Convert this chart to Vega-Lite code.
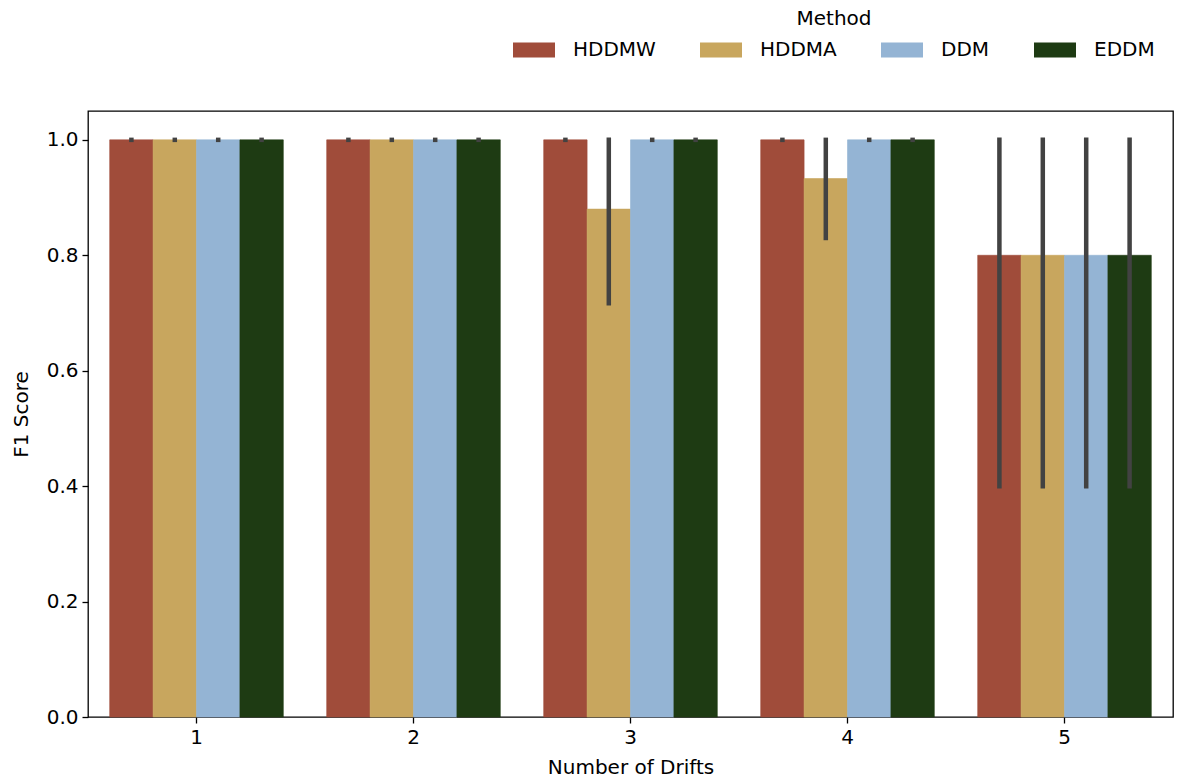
{
  "$schema": "https://vega.github.io/schema/vega-lite/v6.json",
  "width": 1085,
  "height": 606,
  "autosize": {"type": "none"},
  "padding": {"left": 88, "top": 111, "right": 4, "bottom": 63},
  "background": "white",
  "config": {
    "font": "DejaVu Sans",
    "view": {"stroke": "black", "strokeWidth": 1.3},
    "axis": {
      "labelFont": "DejaVu Sans",
      "labelFontSize": 20,
      "labelColor": "black",
      "titleFont": "DejaVu Sans",
      "titleFontSize": 20,
      "titleFontWeight": "normal",
      "titleColor": "black",
      "tickColor": "black",
      "tickSize": 6,
      "tickWidth": 1.3,
      "domain": false,
      "grid": false
    },
    "legend": {
      "labelFont": "DejaVu Sans",
      "labelFontSize": 20,
      "labelColor": "black",
      "titleFont": "DejaVu Sans",
      "titleFontSize": 20,
      "titleFontWeight": "normal",
      "titleColor": "black"
    }
  },
  "data": {
    "values": [
      {"drift": "1", "method": "HDDMW", "f1": 1.0, "lo": 1.0, "hi": 1.0},
      {"drift": "1", "method": "HDDMA", "f1": 1.0, "lo": 1.0, "hi": 1.0},
      {"drift": "1", "method": "DDM", "f1": 1.0, "lo": 1.0, "hi": 1.0},
      {"drift": "1", "method": "EDDM", "f1": 1.0, "lo": 1.0, "hi": 1.0},
      {"drift": "2", "method": "HDDMW", "f1": 1.0, "lo": 1.0, "hi": 1.0},
      {"drift": "2", "method": "HDDMA", "f1": 1.0, "lo": 1.0, "hi": 1.0},
      {"drift": "2", "method": "DDM", "f1": 1.0, "lo": 1.0, "hi": 1.0},
      {"drift": "2", "method": "EDDM", "f1": 1.0, "lo": 1.0, "hi": 1.0},
      {"drift": "3", "method": "HDDMW", "f1": 1.0, "lo": 1.0, "hi": 1.0},
      {"drift": "3", "method": "HDDMA", "f1": 0.88, "lo": 0.717, "hi": 1.0},
      {"drift": "3", "method": "DDM", "f1": 1.0, "lo": 1.0, "hi": 1.0},
      {"drift": "3", "method": "EDDM", "f1": 1.0, "lo": 1.0, "hi": 1.0},
      {"drift": "4", "method": "HDDMW", "f1": 1.0, "lo": 1.0, "hi": 1.0},
      {"drift": "4", "method": "HDDMA", "f1": 0.933, "lo": 0.83, "hi": 1.0},
      {"drift": "4", "method": "DDM", "f1": 1.0, "lo": 1.0, "hi": 1.0},
      {"drift": "4", "method": "EDDM", "f1": 1.0, "lo": 1.0, "hi": 1.0},
      {"drift": "5", "method": "HDDMW", "f1": 0.8, "lo": 0.4, "hi": 1.0},
      {"drift": "5", "method": "HDDMA", "f1": 0.8, "lo": 0.4, "hi": 1.0},
      {"drift": "5", "method": "DDM", "f1": 0.8, "lo": 0.4, "hi": 1.0},
      {"drift": "5", "method": "EDDM", "f1": 0.8, "lo": 0.4, "hi": 1.0}
    ]
  },
  "encoding": {
    "x": {
      "field": "drift",
      "type": "ordinal",
      "title": "Number of Drifts",
      "scale": {"paddingInner": 0.2, "paddingOuter": 0.1},
      "axis": {"labelAngle": 0, "labelPadding": 4, "titlePadding": 10}
    },
    "xOffset": {
      "field": "method",
      "type": "nominal",
      "sort": ["HDDMW", "HDDMA", "DDM", "EDDM"],
      "scale": {"paddingInner": 0, "paddingOuter": 0}
    }
  },
  "layer": [
    {
      "mark": {"type": "bar", "strokeWidth": 0.6},
      "encoding": {
        "y": {
          "field": "f1",
          "type": "quantitative",
          "title": "F1 Score",
          "scale": {"domain": [0, 1.05], "nice": false, "zero": true},
          "axis": {"values": [0, 0.2, 0.4, 0.6, 0.8, 1.0], "format": ".1f", "labelPadding": 4, "titlePadding": 15}
        },
        "stroke": {
          "field": "method",
          "type": "nominal",
          "scale": {
            "domain": ["HDDMW", "HDDMA", "DDM", "EDDM"],
            "range": ["#a04c3a", "#c8a65e", "#94b4d4", "#1e3b13"]
          },
          "legend": null
        },
        "color": {
          "field": "method",
          "type": "nominal",
          "sort": ["HDDMW", "HDDMA", "DDM", "EDDM"],
          "title": "Method",
          "scale": {
            "domain": ["HDDMW", "HDDMA", "DDM", "EDDM"],
            "range": ["#a04c3a", "#c8a65e", "#94b4d4", "#1e3b13"]
          },
          "legend": {
            "orient": "none",
            "legendX": 425,
            "legendY": -102,
            "direction": "horizontal",
            "columns": 4,
            "columnPadding": 44,
            "labelOffset": 18,
            "padding": 0,
            "titleOrient": "top",
            "titleAnchor": "middle",
            "titlePadding": 0,
            "symbolType": "M-1,-0.357H1V0.357H-1Z",
            "symbolSize": 1764,
            "symbolStrokeWidth": 0,
            "symbolOpacity": 1
          }
        }
      }
    },
    {
      "mark": {"type": "rule", "color": "#424242", "strokeWidth": 4.5, "strokeCap": "square"},
      "encoding": {
        "y": {"field": "lo", "type": "quantitative"},
        "y2": {"field": "hi"}
      }
    }
  ]
}
